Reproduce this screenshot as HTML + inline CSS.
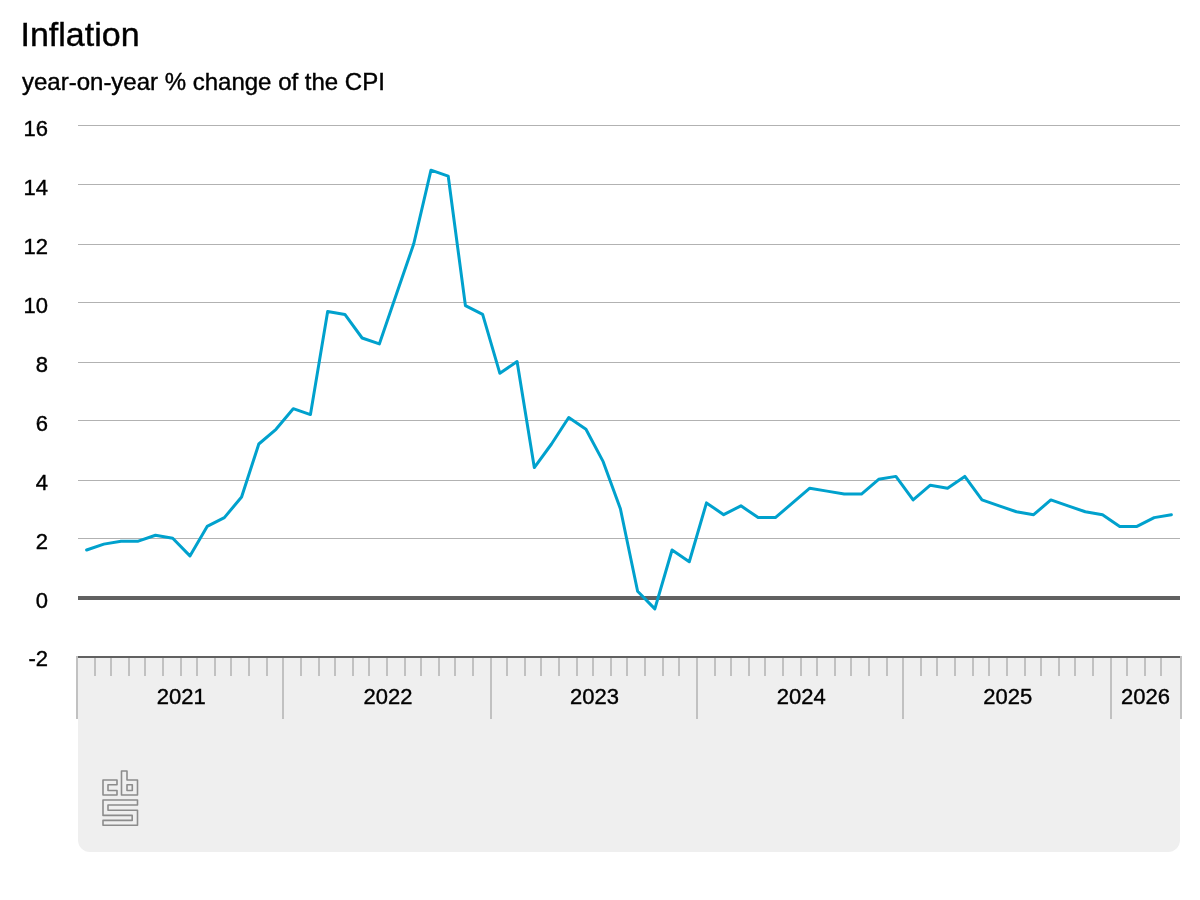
<!DOCTYPE html>
<html lang="en"><head><meta charset="utf-8"><title>Inflation</title>
<style>
html,body{margin:0;padding:0;background:#fff;}
body{width:1200px;height:900px;overflow:hidden;font-family:"Liberation Sans",Arial,Helvetica,sans-serif;}
svg{display:block;}
svg text{font-family:"Liberation Sans",Arial,Helvetica,sans-serif;fill:#000;stroke:#000;stroke-width:0.4px;}
</style></head><body>
<svg width="1200" height="900" viewBox="0 0 1200 900">
<rect x="0" y="0" width="1200" height="900" fill="#ffffff"/>
<text x="20.5" y="46" font-size="34">Inflation</text>
<text x="22" y="90" font-size="24">year-on-year % change of the CPI</text>
<path d="M78 658 H1180 V840 A12 12 0 0 1 1168 852 H90 A12 12 0 0 1 78 840 Z" fill="#efefef"/>
<rect x="78" y="125" width="1102" height="1" fill="#b2b2b2"/>
<rect x="78" y="184" width="1102" height="1" fill="#b2b2b2"/>
<rect x="78" y="244" width="1102" height="1" fill="#b2b2b2"/>
<rect x="78" y="302" width="1102" height="1" fill="#b2b2b2"/>
<rect x="78" y="362" width="1102" height="1" fill="#b2b2b2"/>
<rect x="78" y="420" width="1102" height="1" fill="#b2b2b2"/>
<rect x="78" y="480" width="1102" height="1" fill="#b2b2b2"/>
<rect x="78" y="538" width="1102" height="1" fill="#b2b2b2"/>
<text x="48" y="136.0" font-size="22" text-anchor="end">16</text>
<text x="48" y="195.0" font-size="22" text-anchor="end">14</text>
<text x="48" y="254.0" font-size="22" text-anchor="end">12</text>
<text x="48" y="313.0" font-size="22" text-anchor="end">10</text>
<text x="48" y="372.0" font-size="22" text-anchor="end">8</text>
<text x="48" y="431.0" font-size="22" text-anchor="end">6</text>
<text x="48" y="490.0" font-size="22" text-anchor="end">4</text>
<text x="48" y="549.0" font-size="22" text-anchor="end">2</text>
<text x="48" y="608.0" font-size="22" text-anchor="end">0</text>
<text x="48" y="666.0" font-size="22" text-anchor="end">-2</text>
<rect x="76" y="656" width="2" height="63" fill="#c1c1c1"/>
<rect x="94" y="658" width="2" height="18" fill="#c1c1c1"/>
<rect x="110" y="658" width="2" height="18" fill="#c1c1c1"/>
<rect x="128" y="658" width="2" height="18" fill="#c1c1c1"/>
<rect x="144" y="658" width="2" height="18" fill="#c1c1c1"/>
<rect x="162" y="658" width="2" height="18" fill="#c1c1c1"/>
<rect x="180" y="658" width="2" height="18" fill="#c1c1c1"/>
<rect x="196" y="658" width="2" height="18" fill="#c1c1c1"/>
<rect x="214" y="658" width="2" height="18" fill="#c1c1c1"/>
<rect x="230" y="658" width="2" height="18" fill="#c1c1c1"/>
<rect x="248" y="658" width="2" height="18" fill="#c1c1c1"/>
<rect x="266" y="658" width="2" height="18" fill="#c1c1c1"/>
<rect x="282" y="656" width="2" height="63" fill="#c1c1c1"/>
<rect x="300" y="658" width="2" height="18" fill="#c1c1c1"/>
<rect x="318" y="658" width="2" height="18" fill="#c1c1c1"/>
<rect x="334" y="658" width="2" height="18" fill="#c1c1c1"/>
<rect x="352" y="658" width="2" height="18" fill="#c1c1c1"/>
<rect x="368" y="658" width="2" height="18" fill="#c1c1c1"/>
<rect x="386" y="658" width="2" height="18" fill="#c1c1c1"/>
<rect x="404" y="658" width="2" height="18" fill="#c1c1c1"/>
<rect x="420" y="658" width="2" height="18" fill="#c1c1c1"/>
<rect x="438" y="658" width="2" height="18" fill="#c1c1c1"/>
<rect x="454" y="658" width="2" height="18" fill="#c1c1c1"/>
<rect x="472" y="658" width="2" height="18" fill="#c1c1c1"/>
<rect x="490" y="656" width="2" height="63" fill="#c1c1c1"/>
<rect x="506" y="658" width="2" height="18" fill="#c1c1c1"/>
<rect x="524" y="658" width="2" height="18" fill="#c1c1c1"/>
<rect x="540" y="658" width="2" height="18" fill="#c1c1c1"/>
<rect x="558" y="658" width="2" height="18" fill="#c1c1c1"/>
<rect x="576" y="658" width="2" height="18" fill="#c1c1c1"/>
<rect x="592" y="658" width="2" height="18" fill="#c1c1c1"/>
<rect x="610" y="658" width="2" height="18" fill="#c1c1c1"/>
<rect x="626" y="658" width="2" height="18" fill="#c1c1c1"/>
<rect x="644" y="658" width="2" height="18" fill="#c1c1c1"/>
<rect x="662" y="658" width="2" height="18" fill="#c1c1c1"/>
<rect x="678" y="658" width="2" height="18" fill="#c1c1c1"/>
<rect x="696" y="656" width="2" height="63" fill="#c1c1c1"/>
<rect x="714" y="658" width="2" height="18" fill="#c1c1c1"/>
<rect x="730" y="658" width="2" height="18" fill="#c1c1c1"/>
<rect x="748" y="658" width="2" height="18" fill="#c1c1c1"/>
<rect x="764" y="658" width="2" height="18" fill="#c1c1c1"/>
<rect x="782" y="658" width="2" height="18" fill="#c1c1c1"/>
<rect x="800" y="658" width="2" height="18" fill="#c1c1c1"/>
<rect x="816" y="658" width="2" height="18" fill="#c1c1c1"/>
<rect x="834" y="658" width="2" height="18" fill="#c1c1c1"/>
<rect x="850" y="658" width="2" height="18" fill="#c1c1c1"/>
<rect x="868" y="658" width="2" height="18" fill="#c1c1c1"/>
<rect x="886" y="658" width="2" height="18" fill="#c1c1c1"/>
<rect x="902" y="656" width="2" height="63" fill="#c1c1c1"/>
<rect x="920" y="658" width="2" height="18" fill="#c1c1c1"/>
<rect x="936" y="658" width="2" height="18" fill="#c1c1c1"/>
<rect x="954" y="658" width="2" height="18" fill="#c1c1c1"/>
<rect x="972" y="658" width="2" height="18" fill="#c1c1c1"/>
<rect x="988" y="658" width="2" height="18" fill="#c1c1c1"/>
<rect x="1006" y="658" width="2" height="18" fill="#c1c1c1"/>
<rect x="1024" y="658" width="2" height="18" fill="#c1c1c1"/>
<rect x="1040" y="658" width="2" height="18" fill="#c1c1c1"/>
<rect x="1058" y="658" width="2" height="18" fill="#c1c1c1"/>
<rect x="1074" y="658" width="2" height="18" fill="#c1c1c1"/>
<rect x="1092" y="658" width="2" height="18" fill="#c1c1c1"/>
<rect x="1110" y="656" width="2" height="63" fill="#c1c1c1"/>
<rect x="1126" y="658" width="2" height="18" fill="#c1c1c1"/>
<rect x="1144" y="658" width="2" height="18" fill="#c1c1c1"/>
<rect x="1160" y="658" width="2" height="18" fill="#c1c1c1"/>
<rect x="1180" y="656" width="2" height="63" fill="#c1c1c1"/>
<rect x="78" y="656" width="1102" height="2" fill="#616161"/>
<rect x="78" y="596" width="1102" height="4" fill="#616161"/>
<text x="181.3" y="704" font-size="22" text-anchor="middle">2021</text>
<text x="387.9" y="704" font-size="22" text-anchor="middle">2022</text>
<text x="594.6" y="704" font-size="22" text-anchor="middle">2023</text>
<text x="801.2" y="704" font-size="22" text-anchor="middle">2024</text>
<text x="1007.8" y="704" font-size="22" text-anchor="middle">2025</text>
<text x="1145.6" y="704" font-size="22" text-anchor="middle">2026</text>
<polyline points="86.61,550.00 103.83,544.11 121.05,541.17 138.27,541.17 155.48,535.28 172.70,538.22 189.92,555.89 207.14,526.44 224.36,517.61 241.58,497.00 258.80,444.00 276.02,429.28 293.23,408.67 310.45,414.56 327.67,311.50 344.89,314.44 362.11,338.00 379.33,343.89 396.55,293.83 413.77,243.78 430.98,170.17 448.20,176.06 465.42,305.61 482.64,314.44 499.86,373.33 517.08,361.56 534.30,467.56 551.52,444.00 568.73,417.50 585.95,429.28 603.17,461.67 620.39,508.78 637.61,591.22 654.83,608.89 672.05,550.00 689.27,561.78 706.48,502.89 723.70,514.67 740.92,505.83 758.14,517.61 775.36,517.61 792.58,502.89 809.80,488.17 827.02,491.11 844.23,494.06 861.45,494.06 878.67,479.33 895.89,476.39 913.11,499.94 930.33,485.22 947.55,488.17 964.77,476.39 981.98,499.94 999.20,505.83 1016.42,511.72 1033.64,514.67 1050.86,499.94 1068.08,505.83 1085.30,511.72 1102.52,514.67 1119.73,526.44 1136.95,526.44 1154.17,517.61 1171.39,514.67" fill="none" stroke="#00a1cd" stroke-width="3" stroke-linejoin="round" stroke-linecap="round"/>
<g fill="none" stroke="#8c8c8c" stroke-width="1.6" stroke-linejoin="round">
<path d="M103 780 H117 V784.7 H108 V790.5 H117 V795 H103 Z"/>
<path d="M121.5 771 H127 V780 H137.5 V795 H121.5 Z"/>
<path d="M127 784.7 H132.3 V790.5 H127 Z"/>
<path d="M103 800 H137.5 V805 H108 V810.2 H137.5 V825.3 H103 V820.4 H132.2 V815.4 H103 Z"/>
</g>
</svg>
</body></html>
